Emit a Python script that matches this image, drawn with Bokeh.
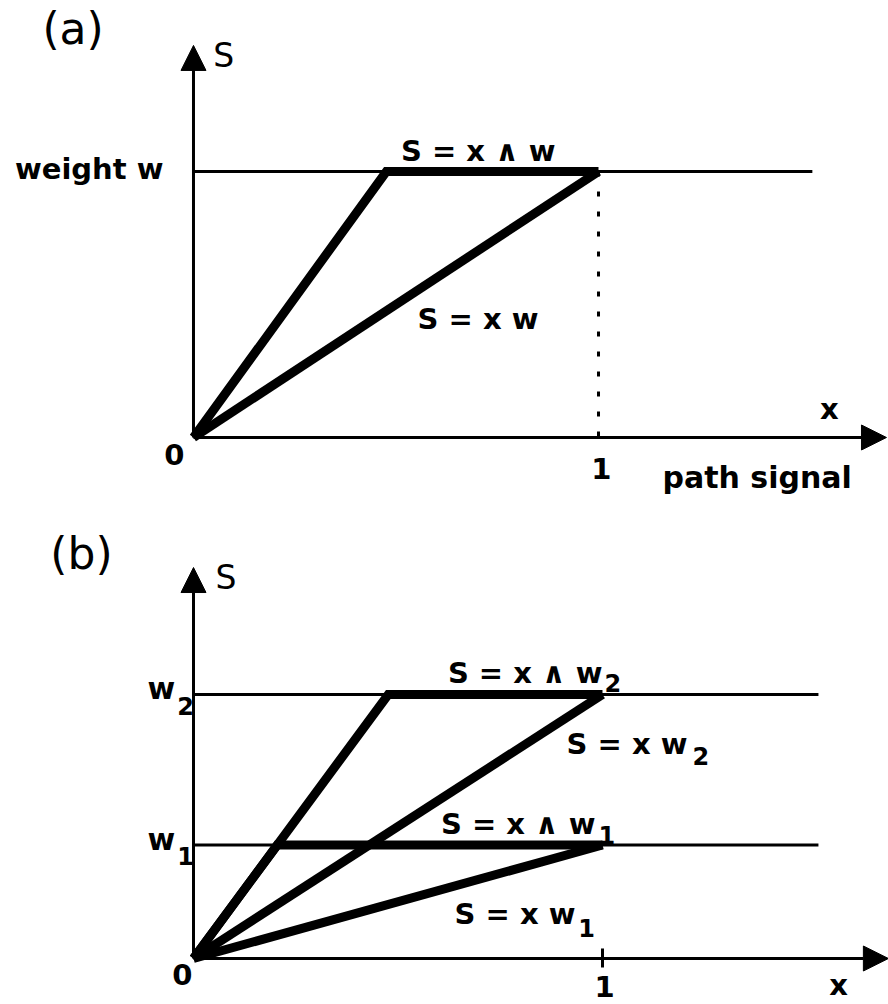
from bokeh.plotting import figure
from bokeh.layouts import column
from bokeh.models import Arrow, NormalHead, Label
from bokeh.embed import file_html
from bokeh.resources import INLINE

# ---- model values -------------------------------------------------------
gain = 2.1                    # slope of the clipped (min) response
x_end = 1.0                   # path signal runs from 0 to 1
weights_a = [1.0]             # panel (a): single weight w
weights_b = [1.0, 0.43]       # panel (b): w2, w1
weight_names_b = ["2", "1"]
ref_line_end = 1.528          # horizontal weight lines extend past x = 1

FONT = "DejaVu Sans"
INK = "black"
PX_PER_Y = {"a": 266.0, "b": 264.0}   # vertical pixels per data unit


def make_panel(x_range, y_range):
    p = figure(width=888, height=502, x_range=x_range, y_range=y_range,
               output_backend="svg", toolbar_location=None,
               x_axis_location=None, y_axis_location=None, min_border=0)
    p.outline_line_color = None
    p.grid.grid_line_color = None
    p.background_fill_color = "white"
    p.border_fill_color = "white"
    return p


def axes(p, x_tip, y_tip):
    head = dict(size=25, fill_color=INK, line_color=INK, line_width=1)
    p.add_layout(Arrow(end=NormalHead(**head), x_start=0, y_start=0,
                       x_end=x_tip, y_end=0, line_width=3, line_color=INK))
    p.add_layout(Arrow(end=NormalHead(**head), x_start=0, y_start=0,
                       x_end=0, y_end=y_tip, line_width=3, line_color=INK))


def text(p, key, x, y, s, size=29, bold=True, align="left"):
    # lift so that y is the glyph baseline
    y = y + 0.32 * size / PX_PER_Y[key]
    p.add_layout(Label(x=x, y=y, text=s, text_font=FONT,
                       text_font_size=f"{size}px",
                       text_font_style="bold" if bold else "normal",
                       text_align=align, text_baseline="alphabetic",
                       text_color=INK))


def responses(p, w):
    # reference level for this weight
    p.line([0, ref_line_end], [w, w], line_width=3, line_color=INK)
    # S = x w
    p.line([0, x_end], [0, w * x_end], line_width=9, line_color=INK,
           line_cap="butt", line_join="miter")
    # S = x ^ w  (steep rise clipped at w)
    p.line([0, w / gain, x_end], [0, w, w], line_width=9, line_color=INK,
           line_cap="butt", line_join="miter")


# ---- panel (a) ----------------------------------------------------------
pa = make_panel((-0.4765, 1.716), (-0.2444, 1.6429))
for w in weights_a:
    responses(pa, w)
    pa.line([x_end, x_end], [w, 0], line_width=3, line_color=INK,
            line_dash="5 15")
axes(pa, 1.711, 1.474)

text(pa, "a", -0.373, 1.485, "(a)", size=44, bold=False)
text(pa, "a", 0.049, 1.398, "S", size=33, bold=False)
text(pa, "a", -0.074, 0.974, "weight w", align="right")
text(pa, "a", 0.894, 1.041, "S = x \u2227 w", align="right")
text(pa, "a", 0.852, 0.410, "S = x w", align="right")
text(pa, "a", -0.047, -0.098, "0", align="center")
text(pa, "a", 1.007, -0.150, "1", align="center")
text(pa, "a", 1.570, 0.071, "x", align="center")
text(pa, "a", 1.158, -0.188, "path signal", size=30)

# ---- panel (b) ----------------------------------------------------------
pb = make_panel((-0.4719, 1.6993), (-0.1742, 1.7273))
for w in weights_b:
    responses(pb, w)
pb.line([x_end, x_end], [0.038, -0.034], line_width=3, line_color=INK)
axes(pb, 1.699, 1.481)

text(pb, "b", -0.350, 1.481, "(b)", size=44, bold=False)
text(pb, "b", 0.054, 1.402, "S", size=33, bold=False)
for w, n in zip(weights_b, weight_names_b):
    text(pb, "b", -0.045, w - 0.015, "w", size=30, align="right")
    text(pb, "b", -0.040, w - 0.072, n, size=24)
text(pb, "b", -0.027, -0.095, "0", align="center")
text(pb, "b", 1.005, -0.142, "1", align="center")
text(pb, "b", 1.577, -0.136, "x", align="center")

# curve annotations: main text ends where the subscript begins
text(pb, "b", 1.000, 1.045, "S = x \u2227 w", align="right")
text(pb, "b", 1.005, 1.015, "2", size=24)
text(pb, "b", 1.208, 0.777, "S = x w", align="right")
text(pb, "b", 1.220, 0.739, "2", size=24)
text(pb, "b", 0.983, 0.473, "S = x \u2227 w", align="right")
text(pb, "b", 0.990, 0.439, "1", size=24)
text(pb, "b", 0.934, 0.133, "S = x w", align="right")
text(pb, "b", 0.941, 0.087, "1", size=24)

layout = column(pa, pb, spacing=0)
open("out.html", "w").write(file_html(layout, INLINE))
